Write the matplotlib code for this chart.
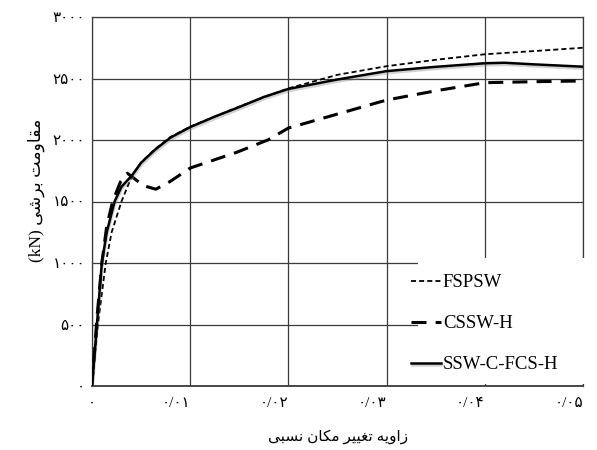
import matplotlib
matplotlib.use("Agg")
import matplotlib.pyplot as plt
import matplotlib.patheffects as pe
from matplotlib.patches import Rectangle

# ---------------------------------------------------------
# Datos (deriva relativa vs cortante kN)
# ---------------------------------------------------------
fspsw_x = [0, 0.0006, 0.0014, 0.002, 0.003, 0.0041, 0.005, 0.0064, 0.008, 0.01,
           0.015, 0.02, 0.025, 0.03, 0.035, 0.04, 0.045, 0.05]
fspsw_y = [0, 500, 1000, 1250, 1500, 1715, 1818, 1925, 2025, 2108,
           2272, 2420, 2530, 2600, 2652, 2697, 2723, 2750]

cssw_x = [0, 0.0005, 0.001, 0.0015, 0.0021, 0.0029, 0.0036, 0.0041, 0.0052, 0.0065,
          0.0079, 0.01, 0.0148, 0.0179, 0.02, 0.025, 0.03, 0.035, 0.04, 0.045, 0.05]
cssw_y = [0, 550, 1000, 1300, 1500, 1660, 1730, 1700, 1630, 1600,
          1660, 1772, 1902, 2000, 2097, 2211, 2325, 2400, 2466, 2474, 2480]

ssw_x = [0, 0.0005, 0.001, 0.0015, 0.0023, 0.003, 0.0041, 0.005, 0.0064, 0.008,
         0.01, 0.0125, 0.015, 0.0175, 0.02, 0.025, 0.03, 0.035, 0.04, 0.042, 0.045, 0.05]
ssw_y = [0, 500, 1000, 1250, 1500, 1620, 1715, 1815, 1920, 2020,
         2105, 2190, 2268, 2350, 2415, 2492, 2560, 2595, 2624, 2628, 2615, 2596]

series_labels = ["FSPSW", "CSSW-H", "SSW-C-FCS-H"]

x_ticks = [0, 0.01, 0.02, 0.03, 0.04, 0.05]
x_ticklabels = ["\u06f0", "\u06f0/\u06f0\u06f1", "\u06f0/\u06f0\u06f2", "\u06f0/\u06f0\u06f3",
                "\u06f0/\u06f0\u06f4", "\u06f0/\u06f0\u06f5"]
y_ticks = [0, 500, 1000, 1500, 2000, 2500, 3000]
y_ticklabels = ["\u06f0", "\u06f5\u06f0\u06f0", "\u06f1\u06f0\u06f0\u06f0", "\u06f1\u06f5\u06f0\u06f0",
                "\u06f2\u06f0\u06f0\u06f0", "\u06f2\u06f5\u06f0\u06f0", "\u06f3\u06f0\u06f0\u06f0"]

# Textos persas ya en formas de presentación y orden visual
# زاویه تغییر مکان نسبی
x_label = ("\ufef0\ufe92\ufeb4\ufee7 " + "\ufee5\ufe8e\ufb91\ufee3 "
           + "\ufeae\ufbff\ufbff\ufed0\ufe97 " + "\ufeea\ufbfe\ufeed\ufe8d\ufeaf")
# مقاومت برشی (kN)
y_label = "(kN) " + "\ufbfd\ufeb7\ufeae\ufe91 " + "\ufe96\ufee3\ufeed\ufe8e\ufed8\ufee3"

fonts = ["Liberation Serif", "DejaVu Sans"]

fig = plt.figure(figsize=(5.97, 4.5), dpi=100)
ax = fig.add_axes([92 / 597, 64 / 450, 491 / 597, 369 / 450])

grid_c = "#3a3a3a"
ax.set_xlim(0, 0.05)
ax.set_ylim(0, 3000)
ax.set_xticks(x_ticks)
ax.set_yticks(y_ticks)
ax.grid(True, color=grid_c, linewidth=0.9)
ax.set_axisbelow(True)
for s in ax.spines.values():
    s.set_color(grid_c)
    s.set_linewidth(0.9)
ax.spines["bottom"].set_linewidth(1.3)
ax.tick_params(length=0)

ax.set_xticklabels(x_ticklabels, fontsize=11, family=fonts)
ax.set_yticklabels(y_ticklabels, fontsize=11, family=fonts)
for i, t in enumerate(ax.get_xticklabels()):
    t.set_ha("center" if i == 0 else "right")
ax.tick_params(axis="x", pad=8)
ax.tick_params(axis="y", pad=5)

ax.plot(fspsw_x, fspsw_y, color="black", linewidth=1.3, linestyle=(0, (2.8, 1.7)),
        label=series_labels[0], zorder=4)
ax.plot(cssw_x, cssw_y, color="black", linewidth=2.2, linestyle=(0, (4.9, 3.0)),
        label=series_labels[1], zorder=4)
ax.plot(ssw_x, ssw_y, color="black", linewidth=1.8, label=series_labels[2], zorder=5,
        path_effects=[pe.SimpleLineShadow(offset=(0.5, -1.5), shadow_color="gray", alpha=0.35),
                      pe.Normal()])

# Caja blanca detrás de la leyenda (tapa la rejilla como en el original)
ax.add_patch(Rectangle((418 / 597, (450 - 384) / 450), 179 / 597, 126 / 450,
                       transform=fig.transFigure, facecolor="white",
                       edgecolor="none", zorder=6, clip_on=False))

leg = ax.legend(loc="upper left", bbox_to_anchor=(411 / 597, (450 - 274) / 450),
                bbox_transform=fig.transFigure, frameon=False,
                prop={"family": "Liberation Serif", "size": 13.5},
                handlelength=1.6, handletextpad=0.1, labelspacing=1.28,
                borderpad=0, borderaxespad=0)
leg.set_zorder(7)

ax.set_xlabel(x_label, fontsize=11, family=fonts, labelpad=14)
ax.set_ylabel(y_label, fontsize=12.5, family=fonts, labelpad=7)
ax.yaxis.set_label_coords(-0.095, 0.53)

plt.savefig("out.png", dpi=100)
